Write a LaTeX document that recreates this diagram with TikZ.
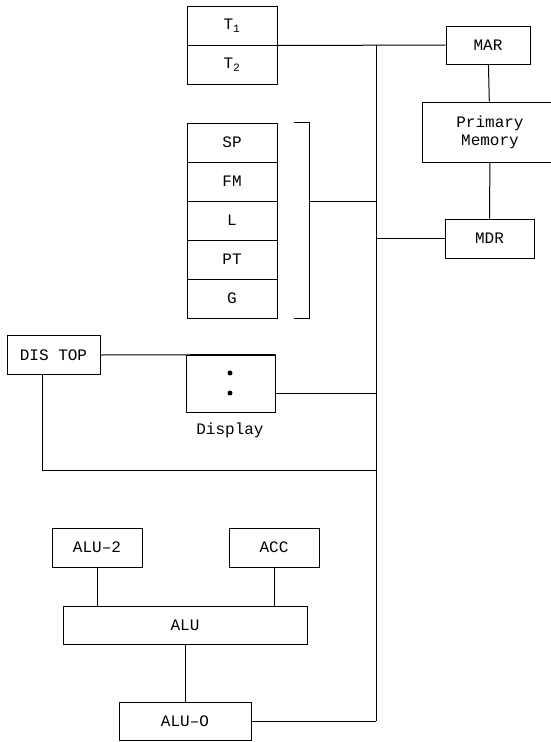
\documentclass[tikz,border=0pt]{standalone}
\usepackage{fontspec}
\setmonofont{Liberation Mono}
\begin{document}
\begin{tikzpicture}[x=1pt,y=-1pt,line width=1pt,
    font=\ttfamily\fontsize{16}{18}\selectfont,
    unit/.style={draw,inner sep=0pt,minimum width=#1},
    unit/.default=90]
  \useasboundingbox (0,0) rectangle (550,742);
  % temporary registers
  \node[unit,minimum height=39] (t1) at (232,25.5) {T\textsubscript{1}};
  \node[unit,minimum height=39] (t2) at (232,64.5) {T\textsubscript{2}};
  % register stack
  \foreach \r/\i in {SP/0,FM/1,L/2,PT/3,G/4} {
    \node[unit,minimum height=39] (\r) at (232,142.5+\i*39) {\r};
  }
  \coordinate (brtop) at ([xshift=32]SP.north east);
  \coordinate (brbot) at ([xshift=32]G.south east);
  \draw ([xshift=16]SP.north east) -- (brtop) -- (brbot) -- ([xshift=16]G.south east);
  % memory side
  \node[unit=84,minimum height=38] (mar) at (488,45) {MAR};
  \node[unit=136,minimum height=60,align=center] (pm) at (490,132) {Primary\\Memory};
  \node[unit=89,minimum height=39] (mdr) at (489.5,238.5) {MDR};
  % display
  \node[unit=93,minimum height=39] (distop) at (53.5,355) {DIS TOP};
  \node[unit=89,minimum height=57] (disp) at (230.5,383.5) {};
  \fill (230,373) circle (2.5) (230,393) circle (2.5);
  \node (displbl) at (230,430) {Display};
  % alu
  \node[unit=90,minimum height=39] (alu2) at (97,547.5) {ALU–2};
  \node[unit=90,minimum height=39] (acc) at (274,547.5) {ACC};
  \node[unit=244,minimum height=38] (alu) at (185,625) {ALU};
  \node[unit=132,minimum height=38] (aluo) at (185,721) {ALU–O};
  % bus
  \coordinate (bustop) at (376,45);
  \coordinate (busbot) at (376,721);
  \draw (bustop) -- (busbot);
  \draw (t1.south east) -- (mar.west);
  \draw (mar) -- (pm);
  \draw (pm) -- (mdr);
  \draw (mdr.west) -- (mdr.west -| bustop);
  \draw (brtop |- FM.south) -- (FM.south -| bustop);
  \draw (distop.east) -- (disp.north east);
  \draw ([yshift=-9.5]disp.east) -- ([yshift=-9.5]disp.east -| bustop);
  \draw ([xshift=-11.5]distop.south) |- (376,470);
  \draw (alu2.south) -- (alu2.south |- alu.north);
  \draw (acc.south) -- (acc.south |- alu.north);
  \draw (alu) -- (aluo);
  \draw (aluo.east) -- (busbot);
\end{tikzpicture}
\end{document}
